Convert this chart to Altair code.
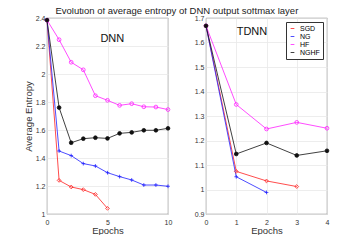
import altair as alt
import pandas as pd

series = ["SGD", "NG", "HF", "NGHF"]
colors = ["#ff2020", "#2020ff", "#ff20ff", "#101010"]
shapes = ["diamond", "M-1,0L1,0M0,-1L0,1", "circle", "circle"]
fills = ["transparent", "transparent", "transparent", "#101010"]
sizes = [14, 14, 14, 5]

dnn_epochs = list(range(11))
dnn_sgd = [2.385, 1.24, 1.193, 1.174, 1.14, 1.04]
dnn_ng = [2.385, 1.45, 1.417, 1.36, 1.343, 1.295, 1.267, 1.243, 1.207, 1.207, 1.198]
dnn_hf = [2.385, 2.245, 2.084, 2.03, 1.845, 1.812, 1.776, 1.788, 1.766, 1.764, 1.746]
dnn_nghf = [2.385, 1.76, 1.509, 1.538, 1.545, 1.54, 1.576, 1.583, 1.598, 1.598, 1.612]

tdnn_epochs = list(range(5))
tdnn_sgd = [1.668, 1.074, 1.035, 1.012]
tdnn_ng = [1.668, 1.052, 0.988]
tdnn_hf = [1.668, 1.347, 1.247, 1.274, 1.25]
tdnn_nghf = [1.668, 1.145, 1.19, 1.139, 1.158]

title_text = "Evolution of average entropy of DNN output softmax layer"
font = "Liberation Sans"


def long_df(epochs, vals_by_series):
    rows = []
    for s, vals in zip(series, vals_by_series):
        for e, v in zip(epochs, vals):
            rows.append({"epoch": e, "value": v, "series": s})
    return pd.DataFrame(rows)


dnn_df = long_df(dnn_epochs, [dnn_sgd, dnn_ng, dnn_hf, dnn_nghf])
tdnn_df = long_df(tdnn_epochs, [tdnn_sgd, tdnn_ng, tdnn_hf, tdnn_nghf])


def panel(df, xdom, xticks, ydom, yticks, ytitle, label, lx, ly, show_legend):
    x = alt.X("epoch:Q", scale=alt.Scale(domain=xdom, nice=False),
              axis=alt.Axis(values=xticks, title="Epochs", format="~r", labelOverlap=False,
                            labelPadding=4, titlePadding=0, labelFlush=False))
    y = alt.Y("value:Q", scale=alt.Scale(domain=ydom, nice=False, zero=False),
              axis=alt.Axis(values=yticks, title=ytitle, format="~r", labelOverlap=False,
                            labelPadding=2, titlePadding=2, labelFlush=False))
    if show_legend:
        leg = alt.Legend(title=None, orient="top-right", offset=4, padding=3,
                         strokeColor="#333", fillColor="white", labelFontSize=7,
                         symbolSize=14, rowPadding=0, labelFont=font,
                         symbolStrokeWidth=0.8, symbolType="stroke")
    else:
        leg = None
    color = alt.Color("series:N", scale=alt.Scale(domain=series, range=colors), legend=leg)
    shape = alt.Shape("series:N", scale=alt.Scale(domain=series, range=shapes), legend=None)
    fill = alt.Fill("series:N", scale=alt.Scale(domain=series, range=fills), legend=None)
    size = alt.Size("series:N", scale=alt.Scale(domain=series, range=sizes), legend=None)
    line = alt.Chart(df).mark_line(strokeWidth=0.8).encode(x=x, y=y, color=color, order="epoch:Q")
    pts = alt.Chart(df).mark_point(strokeWidth=0.8, opacity=1).encode(
        x=x, y=y, color=alt.Color("series:N", scale=alt.Scale(domain=series, range=colors), legend=None),
        shape=shape, fill=fill, size=size)
    txt = alt.Chart(pd.DataFrame({"epoch": [lx], "value": [ly], "t": [label]})).mark_text(
        fontSize=11, font=font, color="#111").encode(x=x, y=y, text="t:N")
    return alt.layer(line, pts, txt).resolve_scale(color="independent").properties(width=121, height=196)


left = panel(dnn_df, [0, 10], [0, 5, 10], [1, 2.4], [1, 1.2, 1.4, 1.6, 1.8, 2, 2.2, 2.4],
             "Average Entropy", "DNN", 5.4, 2.25, False)
right = panel(tdnn_df, [0, 4], [0, 1, 2, 3, 4], [0.9, 1.7],
              [0.9, 1, 1.1, 1.2, 1.3, 1.4, 1.5, 1.6, 1.7], None, "TDNN", 1.52, 1.643, True)

chart = alt.hconcat(left, right, spacing=20).resolve_scale(
    color="independent", shape="independent", fill="independent", size="independent",
    x="independent", y="independent"
).properties(
    title=alt.TitleParams(title_text, fontSize=9.5, font=font, fontWeight="normal",
                          color="#222", anchor="middle", offset=-2),
    padding={"left": 14, "top": -2, "right": 0, "bottom": 0},
).configure_axis(
    labelFont=font, titleFont=font, labelFontSize=7, titleFontSize=9.5,
    labelColor="#333", titleColor="#333", titleFontWeight="normal",
    ticks=False, domain=False,
    grid=True, gridColor="#e8e8e8", gridWidth=0.8,
).configure_view(stroke="#555", strokeWidth=0.8)

chart.save("out.html", embed_options={"renderer": "svg", "actions": False})
